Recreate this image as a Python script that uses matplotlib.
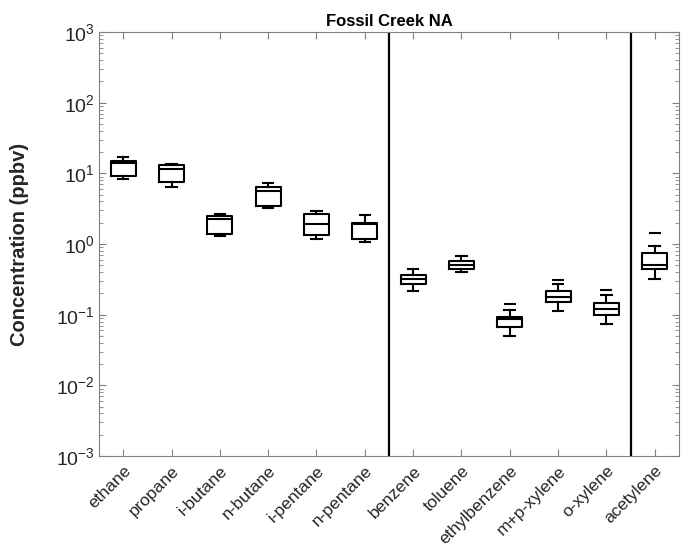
import matplotlib
matplotlib.use("Agg")
import matplotlib.pyplot as plt
from matplotlib.ticker import LogLocator, NullFormatter

plt.rcParams['font.family'] = ['Liberation Sans', 'DejaVu Sans']
plt.rcParams['mathtext.fontset'] = 'custom'
plt.rcParams['mathtext.rm'] = 'Liberation Sans'
plt.rcParams['mathtext.it'] = 'Liberation Sans:italic'
plt.rcParams['mathtext.bf'] = 'Liberation Sans:bold'

compounds = ['ethane', 'propane', 'i-butane', 'n-butane', 'i-pentane', 'n-pentane',
             'benzene', 'toluene', 'ethylbenzene', 'm+p-xylene', 'o-xylene', 'acetylene']

# box statistics (ppbv)
whis_lo = [8.4, 6.5, 1.31, 3.2, 1.19, 1.07, 0.214, 0.402, 0.050, 0.113, 0.073, 0.32]
q1 = [9.3, 7.6, 1.37, 3.48, 1.33, 1.17, 0.272, 0.448, 0.068, 0.151, 0.098, 0.44]
median = [13.8, 11.6, 2.26, 5.68, 1.90, 1.90, 0.316, 0.51, 0.086, 0.176, 0.119, 0.51]
q3 = [15.1, 13.0, 2.52, 6.5, 2.66, 2.00, 0.360, 0.575, 0.092, 0.216, 0.148, 0.74]
whis_hi = [16.9, 13.4, 2.63, 7.2, 2.93, 2.55, 0.438, 0.684, 0.116, 0.272, 0.192, 0.94]
outliers = [[], [], [], [], [], [], [], [], [0.140], [0.31], [0.223], [1.45]]

stats = []
for i, name in enumerate(compounds):
    stats.append(dict(label=name, med=median[i], q1=q1[i], q3=q3[i],
                      whislo=whis_lo[i], whishi=whis_hi[i], fliers=outliers[i]))

fig = plt.figure(figsize=(6.81, 5.54), dpi=100)
ax = fig.add_axes([0.1454, 0.1769, 0.8516, 0.7653])

lw = 1.5
ax.bxp(stats, widths=0.52, capwidths=0.22,
       boxprops=dict(color='black', linewidth=lw),
       medianprops=dict(color='black', linewidth=lw),
       whiskerprops=dict(color='black', linewidth=lw, linestyle='-'),
       capprops=dict(color='black', linewidth=lw),
       flierprops=dict(marker='_', markersize=9, markeredgewidth=lw,
                       markeredgecolor='black'))

# group separators
for xs in [6.5, 11.5]:
    ax.axvline(xs, color='black', linewidth=1.6)

ax.set_yscale('log')
ax.set_ylim(1e-3, 1e3)
ax.set_xlim(0.5, 12.5)
ax.yaxis.set_major_locator(LogLocator(base=10, numticks=10))
ax.yaxis.set_minor_locator(LogLocator(base=10, subs=range(2, 10), numticks=20))
ax.yaxis.set_minor_formatter(NullFormatter())

ax.set_xticks(range(1, 13))
ax.set_xticklabels(compounds, rotation=45, ha='right', va='top',
                   rotation_mode='anchor', fontsize=12.5, color='#262626')

ax.tick_params(axis='both', which='both', direction='in', top=True, right=True,
               colors='#808080', labelcolor='#262626')
ax.tick_params(axis='y', which='major', length=5, labelsize=14, pad=3)
ax.tick_params(axis='y', which='minor', length=3)
ax.tick_params(axis='x', which='major', length=5, pad=5)

for sp in ax.spines.values():
    sp.set_color('#808080')
    sp.set_linewidth(0.8)

ax.set_ylabel('Concentration (ppbv)', fontsize=14.5, fontweight='bold', color='#262626')
ax.yaxis.set_label_coords(-0.12, 0.5)
ax.set_title('Fossil Creek NA', fontsize=12, fontweight='bold', pad=4)

fig.savefig('out.png', dpi=100)
